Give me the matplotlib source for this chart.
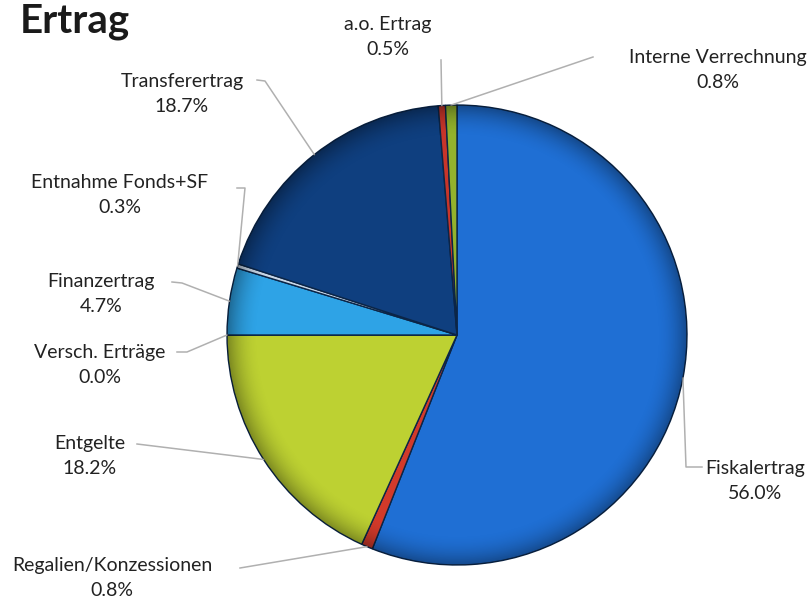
import matplotlib.pyplot as plt
import numpy as np
from matplotlib.patches import Circle

plt.rcParams['font.family'] = ['Lato', 'DejaVu Sans']

# data (clockwise from 12 o'clock)
labels = ['Fiskalertrag', 'Regalien/Konzessionen', 'Entgelte', 'Versch. Erträge',
          'Finanzertrag', 'Entnahme Fonds+SF', 'Transferertrag', 'a.o. Ertrag',
          'Interne Verrechnung']
values = [56.0, 0.8, 18.2, 0.0, 4.7, 0.3, 18.7, 0.5, 0.8]
colors = ['#1f6fd4', '#d23a2a', '#bdd132', '#9fb8d8', '#2ea3e6', '#c8d6e6',
          '#0f3f7f', '#c8352a', '#93b22c']

# layout in pixels (y from top)
W, H = 809, 599
cx, cy, r = 457, 335, 230
# text centre, leader start, elbow
text_pos = [(755, 481), (112, 578), (90, 456), (100, 365), (101, 294),
            (120, 195), (182, 94), (388, 37), (718, 70)]
lead_start = [(702, 467), (240, 568), (137, 444), (177, 352), (172, 282),
              (237, 188), (257, 80), (441, 60), (593, 57)]
lead_elbow = [(686, 467), None, None, (187, 352), (182, 283),
              (245, 188), (265, 81), None, None]

fig = plt.figure(figsize=(W / 100, H / 100), dpi=100)
ax = fig.add_axes([0, 0, 1, 1])

wedges, _ = ax.pie(values, colors=colors, startangle=90, counterclock=False,
                   center=(cx, H - cy), radius=r,
                   wedgeprops=dict(edgecolor='#0b2547', linewidth=1.0))

# soft rim shading for a bevelled look
yy, xx = np.mgrid[0:H, 0:W]
d = np.hypot(xx - cx, yy - cy) / r
shade = np.zeros((H, W, 4))
shade[..., 3] = np.clip((d - 0.86) / 0.14, 0, 1) ** 2 * 0.35
im = ax.imshow(shade, extent=(0, W, 0, H), origin='upper', zorder=3)
im.set_clip_path(Circle((cx, H - cy), r, transform=ax.transData))

total = sum(values)
cum = np.cumsum([0] + values)
for i, lab in enumerate(labels):
    mid = np.radians(360 * (cum[i] + cum[i + 1]) / 2 / total)
    ex, ey = cx + r * np.sin(mid), cy - r * np.cos(mid)
    pts = [lead_start[i]]
    if lead_elbow[i] is not None:
        pts.append(lead_elbow[i])
    pts.append((ex, ey))
    px = [p[0] for p in pts]
    py = [H - p[1] for p in pts]
    ax.plot(px, py, color='#b0b0b0', lw=1.1, zorder=1)
    tx, ty = text_pos[i]
    ax.text(tx, H - ty, f"{lab}\n{values[i]:.1f}%", ha='center', va='center',
            fontsize=14, color='#222222', linespacing=1.6)

ax.text(20, H - 22, 'Ertrag', fontsize=29, fontweight='bold', color='#1a1a1a',
        ha='left', va='center')

ax.set_xlim(0, W)
ax.set_ylim(0, H)
ax.set_aspect('equal')
ax.axis('off')

fig.savefig('out.png', dpi=100)
